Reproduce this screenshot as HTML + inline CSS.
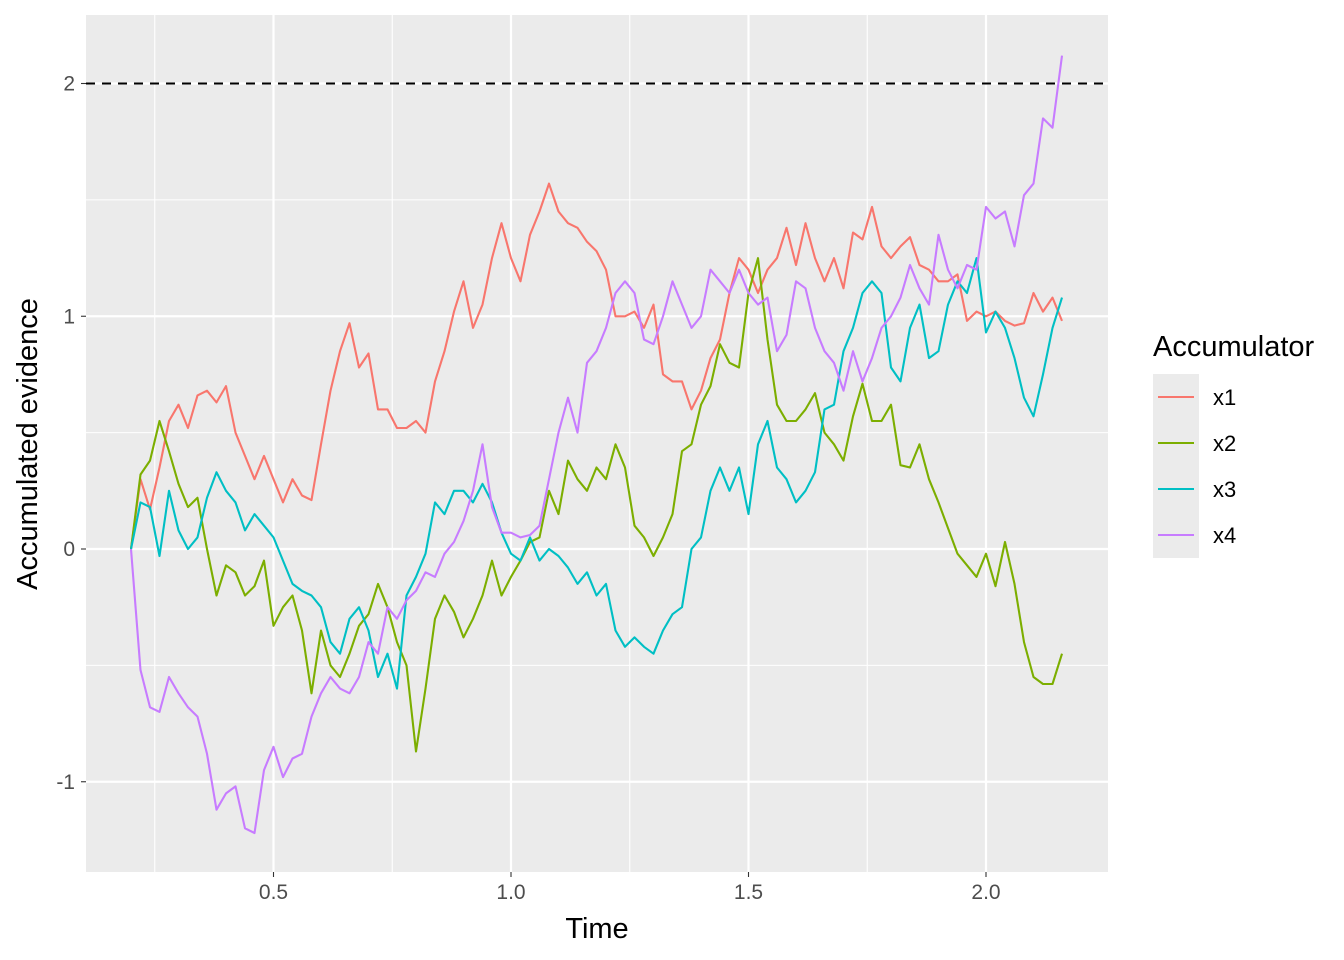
<!DOCTYPE html>
<html><head><meta charset="utf-8"><style>
body{margin:0;background:#fff;font-family:"Liberation Sans",sans-serif;}
svg{display:block}
</style></head><body>
<svg id="chart" width="1344" height="960" xmlns="http://www.w3.org/2000/svg"></svg>
<script>
const times = Array.from({length:99},(_,i)=>0.2+0.02*i);
const x1 = [0,0.30,0.17,0.35,0.55,0.62,0.52,0.66,0.68,0.63,0.70,0.50,0.40,0.30,0.40,0.30,0.20,0.30,0.23,0.21,0.45,0.68,0.85,0.97,0.78,0.84,0.60,0.60,0.52,0.52,0.55,0.50,0.72,0.85,1.02,1.15,0.95,1.05,1.25,1.40,1.25,1.15,1.35,1.45,1.57,1.45,1.40,1.38,1.32,1.28,1.20,1.00,1.00,1.02,0.95,1.05,0.75,0.72,0.72,0.60,0.68,0.82,0.90,1.10,1.25,1.20,1.10,1.20,1.25,1.38,1.22,1.40,1.25,1.15,1.25,1.12,1.36,1.33,1.47,1.30,1.25,1.30,1.34,1.22,1.20,1.15,1.15,1.18,0.98,1.02,1.00,1.02,0.98,0.96,0.97,1.10,1.02,1.08,0.98];
const x2 = [0,0.32,0.38,0.55,0.42,0.28,0.18,0.22,0.00,-0.20,-0.07,-0.10,-0.20,-0.16,-0.05,-0.33,-0.25,-0.20,-0.35,-0.62,-0.35,-0.50,-0.55,-0.45,-0.33,-0.28,-0.15,-0.25,-0.40,-0.50,-0.87,-0.60,-0.30,-0.20,-0.27,-0.38,-0.30,-0.20,-0.05,-0.20,-0.12,-0.05,0.03,0.05,0.25,0.15,0.38,0.30,0.25,0.35,0.30,0.45,0.35,0.10,0.05,-0.03,0.05,0.15,0.42,0.45,0.62,0.70,0.88,0.80,0.78,1.10,1.25,0.90,0.62,0.55,0.55,0.60,0.67,0.50,0.45,0.38,0.57,0.71,0.55,0.55,0.62,0.36,0.35,0.45,0.30,0.20,0.09,-0.02,-0.07,-0.12,-0.02,-0.16,0.03,-0.15,-0.40,-0.55,-0.58,-0.58,-0.45];
const x3 = [0,0.20,0.18,-0.03,0.25,0.08,0.00,0.05,0.22,0.33,0.25,0.20,0.08,0.15,0.10,0.05,-0.05,-0.15,-0.18,-0.20,-0.25,-0.40,-0.45,-0.30,-0.25,-0.35,-0.55,-0.45,-0.60,-0.20,-0.12,-0.02,0.20,0.15,0.25,0.25,0.20,0.28,0.20,0.07,-0.02,-0.05,0.05,-0.05,0.00,-0.03,-0.08,-0.15,-0.10,-0.20,-0.15,-0.35,-0.42,-0.38,-0.42,-0.45,-0.35,-0.28,-0.25,0.00,0.05,0.25,0.35,0.25,0.35,0.15,0.45,0.55,0.35,0.30,0.20,0.25,0.33,0.60,0.62,0.85,0.95,1.10,1.15,1.10,0.78,0.72,0.95,1.05,0.82,0.85,1.05,1.15,1.10,1.25,0.93,1.02,0.95,0.82,0.65,0.57,0.75,0.95,1.08];
const x4 = [0,-0.52,-0.68,-0.70,-0.55,-0.62,-0.68,-0.72,-0.88,-1.12,-1.05,-1.02,-1.20,-1.22,-0.95,-0.85,-0.98,-0.90,-0.88,-0.72,-0.62,-0.55,-0.60,-0.62,-0.55,-0.40,-0.45,-0.25,-0.30,-0.22,-0.18,-0.10,-0.12,-0.02,0.03,0.12,0.25,0.45,0.18,0.07,0.07,0.05,0.06,0.10,0.30,0.50,0.65,0.50,0.80,0.85,0.95,1.10,1.15,1.10,0.90,0.88,1.00,1.15,1.05,0.95,1.00,1.20,1.15,1.10,1.20,1.10,1.05,1.08,0.85,0.92,1.15,1.12,0.95,0.85,0.80,0.68,0.85,0.72,0.82,0.95,1.00,1.08,1.22,1.12,1.05,1.35,1.20,1.12,1.22,1.20,1.47,1.42,1.45,1.30,1.52,1.57,1.85,1.81,2.12];
const seriesNames = ["x1","x2","x3","x4"];
const colors = ["#F8766D","#7CAE00","#00BFC4","#C77CFF"];
const xTicks = [0.5,1.0,1.5,2.0];
const xTickLabels = ["0.5","1.0","1.5","2.0"];
const yTicks = [-1,0,1,2];
const yTickLabels = ["-1","0","1","2"];
const threshold = 2;

const svg = document.getElementById('chart');
const NS = "http://www.w3.org/2000/svg";
const P = {l:86,r:1108,t:15,b:872};
const sx = t => 131 + (t-0.2)*475;
const sy = v => 549 - v*232.75;
function mk(tag, attrs, parent){const e=document.createElementNS(NS,tag);for(const k in attrs)e.setAttribute(k,attrs[k]);(parent||svg).appendChild(e);return e;}

const bg = mk('rect',{x:P.l,y:P.t,width:P.r-P.l,height:P.b-P.t,fill:'#EBEBEB'});


const grid = mk('g',{});


[-0.5,0.5,1.5].forEach(v=>mk('line',{x1:P.l,x2:P.r,y1:sy(v),y2:sy(v),stroke:'#fff','stroke-width':1.1},grid));
[0.25,0.75,1.25,1.75].forEach(t=>mk('line',{x1:sx(t),x2:sx(t),y1:P.t,y2:P.b,stroke:'#fff','stroke-width':1.1},grid));
yTicks.forEach(v=>mk('line',{x1:P.l,x2:P.r,y1:sy(v),y2:sy(v),stroke:'#fff','stroke-width':2.2},grid));
xTicks.forEach(t=>mk('line',{x1:sx(t),x2:sx(t),y1:P.t,y2:P.b,stroke:'#fff','stroke-width':2.2},grid));

const th = mk('line',{x1:P.l,x2:P.r,y1:sy(threshold),y2:sy(threshold),stroke:'#000','stroke-width':2.1,'stroke-dasharray':'9 7'});



[x1,x2,x3,x4].forEach((vals,k)=>{
  const d = vals.map((v,i)=>(i?'L':'M')+sx(times[i]).toFixed(1)+','+sy(v).toFixed(1)).join('');
  const p = mk('path',{d:d,fill:'none',stroke:colors[k],'stroke-width':2.1,'stroke-linejoin':'round'});
  
  
});

yTicks.forEach((v,i)=>{
  mk('line',{x1:P.l-5,x2:P.l,y1:sy(v),y2:sy(v),stroke:'#333','stroke-width':1.1});
  const t = mk('text',{x:P.l-11,y:sy(v)+7,'text-anchor':'end','font-size':21,fill:'#4D4D4D'});
  t.textContent = yTickLabels[i];
  
  
});
xTicks.forEach((v,i)=>{
  mk('line',{x1:sx(v),x2:sx(v),y1:P.b,y2:P.b+5,stroke:'#333','stroke-width':1.1});
  const t = mk('text',{x:sx(v),y:P.b+27,'text-anchor':'middle','font-size':21,fill:'#4D4D4D'});
  t.textContent = xTickLabels[i];
  
  
});
const xt = mk('text',{x:597,y:938,'text-anchor':'middle','font-size':29,fill:'#000'});
xt.textContent='Time';


const yt = mk('text',{x:0,y:0,'text-anchor':'middle','font-size':29,fill:'#000',transform:'translate(37,444) rotate(-90)'});
yt.textContent='Accumulated evidence';



const lg = mk('g',{});


const ltitle = mk('text',{x:1153,y:356,'font-size':29,fill:'#000'},lg);
ltitle.textContent='Accumulator';


seriesNames.forEach((n,k)=>{
  const g = mk('g',{},lg);
  
  
  const y0 = 374 + k*46;
  mk('rect',{x:1153,y:y0,width:46,height:46,fill:'#EBEBEB'},g);
  mk('line',{x1:1158,x2:1194,y1:y0+23,y2:y0+23,stroke:colors[k],'stroke-width':2.1},g);
  const t = mk('text',{x:1213,y:y0+31,'font-size':22,fill:'#000'},g);
  t.textContent=n;
});
</script>
</body></html>
